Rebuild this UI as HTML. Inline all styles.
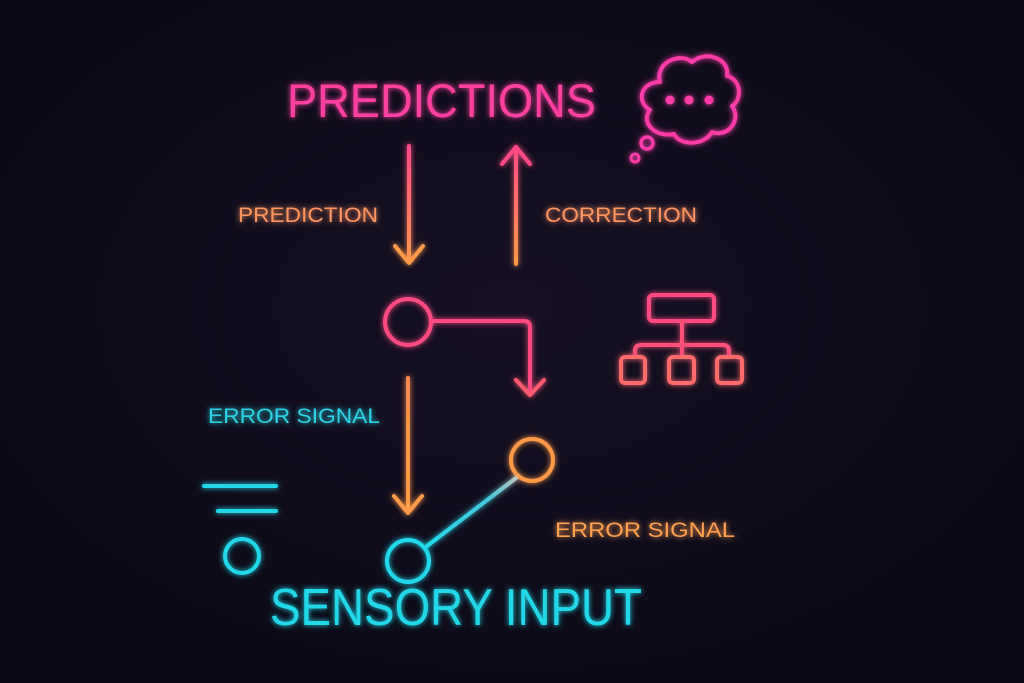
<!DOCTYPE html>
<html><head><style>
html,body{margin:0;padding:0;background:#0e0c19;}
body{width:1024px;height:683px;overflow:hidden;position:relative;font-family:"Liberation Sans",sans-serif;}
svg{position:absolute;left:0;top:0;}
</style></head><body>
<svg width="1024" height="683" viewBox="0 0 1024 683">
<defs>
<radialGradient id="bg" cx="50%" cy="45%" r="60%"><stop offset="0" stop-color="#160f24"/><stop offset="1" stop-color="#0b0a16"/></radialGradient>
<linearGradient id="gA" gradientUnits="userSpaceOnUse" x1="0" y1="146" x2="0" y2="264"><stop offset="0" stop-color="#ff4a86"/><stop offset="1" stop-color="#ff9a4a"/></linearGradient>
<linearGradient id="gB" gradientUnits="userSpaceOnUse" x1="0" y1="264" x2="0" y2="147"><stop offset="0" stop-color="#ff9a4a"/><stop offset="1" stop-color="#ff4a86"/></linearGradient>
<linearGradient id="gC" gradientUnits="userSpaceOnUse" x1="0" y1="378" x2="0" y2="514"><stop offset="0" stop-color="#ff8a50"/><stop offset="1" stop-color="#ffa048"/></linearGradient>
<linearGradient id="g3" gradientUnits="userSpaceOnUse" x1="427" y1="546" x2="516" y2="478"><stop offset="0" stop-color="#22d8e8"/><stop offset="0.7" stop-color="#44c8dc"/><stop offset="1" stop-color="#b8c8c0"/></linearGradient>
<filter id="glow" x="-30%" y="-30%" width="160%" height="160%"><feGaussianBlur stdDeviation="3" result="b"/><feMerge><feMergeNode in="b"/><feMergeNode in="SourceGraphic"/></feMerge></filter>
</defs>
<rect width="1024" height="683" fill="url(#bg)"/>
<g filter="url(#glow)" fill="none" stroke-width="4" stroke-linecap="round" stroke-linejoin="round">
<path d="M409,146 V262" stroke="url(#gA)"/>
<polyline points="395,246 409,263 423,246" stroke="#ff9a4a"/>
<path d="M516,147 V264" stroke="url(#gB)"/>
<polyline points="502,164 516,147 530,164" stroke="#ff4a86"/>
<path d="M660,82 C655,62 680,52 692,62 C705,50 730,58 727,76 C742,80 742,100 732,106 C742,120 728,138 712,132 C704,146 680,146 674,134 C655,138 640,122 650,110 C636,102 640,82 660,82 Z" stroke="#ff3aa8"/>
<circle cx="647" cy="143" r="6" stroke="#ff3aa8" stroke-width="3.5"/>
<circle cx="635" cy="158" r="4" stroke="#ff3aa8" stroke-width="3"/>
<circle cx="408" cy="322" r="23" stroke="#ff4a82"/>
<path d="M432,321 H524 Q530,321 530,327 V395" stroke="#ff4a82"/>
<polyline points="516,380 530,395 544,380" stroke="#ff5a70"/>
<path d="M408,378 V512" stroke="url(#gC)"/>
<polyline points="394,496 408,513 422,496" stroke="#ff9a4a"/>
<circle cx="532" cy="460" r="21" stroke="#ff9a4a"/>
<line x1="427" y1="546" x2="516" y2="478" stroke="url(#g3)"/>
<circle cx="408" cy="561" r="21" stroke="#22d8e8"/>
<line x1="204" y1="486" x2="276" y2="486" stroke="#22d8e8"/>
<line x1="218" y1="511" x2="276" y2="511" stroke="#22d8e8"/>
<circle cx="242" cy="556" r="17" stroke="#22d8e8"/>
<rect x="649" y="295" width="65" height="26" rx="4" stroke="#ff4a82"/>
<path d="M682,321 V345 M635,357 V351 Q635,345 641,345 H723 Q729,345 729,351 V357 M682,345 V357" stroke="#ff4f7a"/>
<rect x="621" y="357" width="24" height="26" rx="4" stroke="#ff6a6a"/>
<rect x="669" y="357" width="25" height="26" rx="4" stroke="#ff6a6a"/>
<rect x="717" y="357" width="25" height="26" rx="4" stroke="#ff6a6a"/>
</g>
<g filter="url(#glow)" stroke="none">
<circle cx="670" cy="100" r="4.5" fill="#ff3aa8"/>
<circle cx="689" cy="100" r="4.5" fill="#ff3aa8"/>
<circle cx="709" cy="100" r="4.5" fill="#ff3aa8"/>
<text x="287" y="117" font-family="Liberation Sans, sans-serif" font-size="47" fill="#ff3fa0" textLength="309" lengthAdjust="spacingAndGlyphs">PREDICTIONS</text>
<text x="238" y="222" font-size="21" fill="#ff9660" textLength="140" lengthAdjust="spacingAndGlyphs">PREDICTION</text>
<text x="545" y="222" font-size="21" fill="#ff9660" textLength="152" lengthAdjust="spacingAndGlyphs">CORRECTION</text>
<text x="208" y="423" font-size="21" fill="#2ad4e4" textLength="172" lengthAdjust="spacingAndGlyphs">ERROR SIGNAL</text>
<text x="555" y="537" font-size="21" fill="#ffa050" textLength="180" lengthAdjust="spacingAndGlyphs">ERROR SIGNAL</text>
<text x="270" y="625" font-size="52" fill="#22d8e8" textLength="372" lengthAdjust="spacingAndGlyphs">SENSORY INPUT</text>
</g>
</svg>
</body></html>
